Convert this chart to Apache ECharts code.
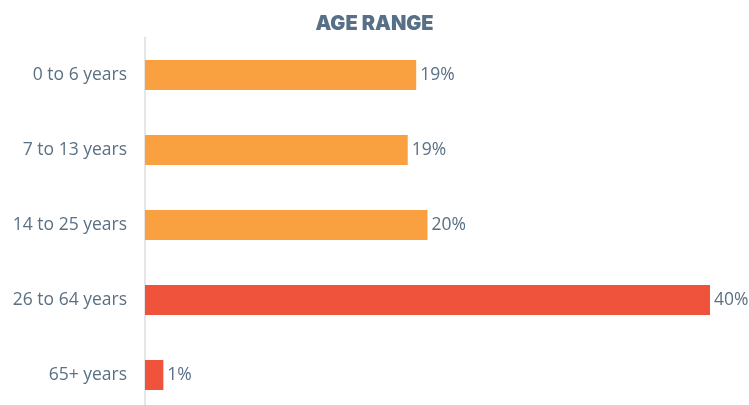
<!DOCTYPE html>
<html><head><meta charset="utf-8">
<script src="https://cdn.jsdelivr.net/npm/echarts@6/dist/echarts.min.js"></script>
<style>html,body{margin:0;padding:0;background:#fff}#c{width:749px;height:405px}</style>
</head><body><div id="c"></div>
<script>
const categories = ['0 to 6 years','7 to 13 years','14 to 25 years','26 to 64 years','65+ years'];
const values = [19.2, 18.6, 20.0, 40.0, 1.3];
const barColors = ['#F9A041','#F9A041','#F9A041','#F0533C','#F0533C'];
const title = 'AGE RANGE';

const chart = echarts.init(document.getElementById('c'), null, {renderer:'canvas'});
chart.setOption({
  animation:false,
  title:{text:title,left:'center',top:9,textStyle:{fontFamily:'Inter',fontWeight:900,fontSize:20,color:'#587087'}},
  grid:{left:145,top:37.5,width:565,height:375,containLabel:false,outerBoundsMode:'none'},
  xAxis:{type:'value',min:0,max:40,show:false},
  yAxis:{type:'category',inverse:true,data:categories,
    axisLine:{show:true,lineStyle:{color:'#e6e6e6',width:2}},
    axisTick:{show:false},
    axisLabel:{fontFamily:'Open Sans',fontSize:17.5,color:'#5a7085',margin:18}},
  series:[{type:'bar',barWidth:30,
    data:values.map((v,i)=>({value:v,itemStyle:{color:barColors[i]}})),
    label:{show:true,position:'right',distance:4,fontFamily:'Open Sans',fontSize:17.5,color:'#5a7085',
      formatter:p=>Math.round(p.value)+'%'}}]
});
</script></body></html>
